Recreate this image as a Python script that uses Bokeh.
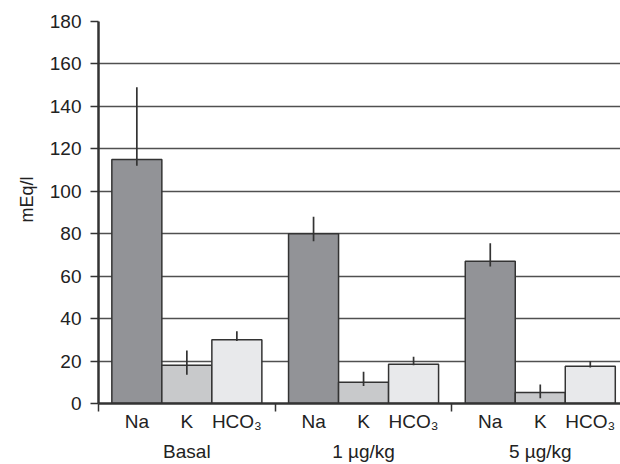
from bokeh.plotting import figure
from bokeh.models import Range1d, FixedTicker, LinearAxis, ColumnDataSource, Title
from bokeh.embed import file_html
from bokeh.resources import INLINE

# ---- data ----
groups = ["Basal", "1 µg/kg", "5 µg/kg"]
ions = ["Na", "K", "HCO₃"]
na = [115, 80, 67]
k = [18, 10, 5.2]
hco3 = [30, 18.5, 17.5]
na_hi = [149, 88, 75.5]
na_lo = [112, 76.5, 64.5]
k_hi = [25, 15, 9]
k_lo = [13.5, 8.3, 2.5]
hco3_hi = [34, 22, 20]
hco3_lo = [29.5, 18, 17]
y_ticks = [0, 20, 40, 60, 80, 100, 120, 140, 160, 180]

series = [na, k, hco3]
series_hi = [na_hi, k_hi, hco3_hi]
series_lo = [na_lo, k_lo, hco3_lo]
colors = ["#929397", "#c8c9cb", "#e8e9eb"]

FONT = "Liberation Sans"
BW = 0.283
INK = "#222222"
LINE = "#333333"

p = figure(width=620, height=464, output_backend="svg", toolbar_location=None,
           x_range=Range1d(0, 2.954), y_range=Range1d(0, 180),
           min_border_left=98, min_border_right=0, min_border_top=21, min_border_bottom=61)
p.xaxis.visible = False
p.outline_line_color = None

p.xgrid.grid_line_color = None
p.ygrid.grid_line_color = "#505050"
p.ygrid.grid_line_width = 1.4
p.ygrid.ticker = FixedTicker(ticks=y_ticks)

p.yaxis.ticker = FixedTicker(ticks=y_ticks)
p.yaxis.minor_tick_line_color = None
p.yaxis.major_tick_in = 0
p.yaxis.major_tick_out = 8
p.yaxis.major_tick_line_color = LINE
p.yaxis.major_tick_line_width = 1.5
p.yaxis.axis_line_color = LINE
p.yaxis.axis_line_width = 2.5
p.yaxis.major_label_text_font = FONT
p.yaxis.major_label_text_font_size = "19px"
p.yaxis.major_label_text_color = INK
p.yaxis.major_label_standoff = 9

ytitle = Title(text="mEq/l", align="left", offset=181, standoff=19,
               text_font=FONT, text_font_size="18px", text_font_style="normal",
               text_color=INK)
p.add_layout(ytitle, "left")

centers = []
overrides = {}
for i in range(3):
    for j in range(3):
        c = round(i + 0.5 + (j - 1) * BW, 4)
        centers.append(c)
        overrides[c] = ions[j]

ion_axis = LinearAxis(ticker=FixedTicker(ticks=centers, minor_ticks=[0, 1, 2, 3]),
                      major_label_overrides=overrides)
ion_axis.major_tick_line_color = None
ion_axis.major_tick_in = 0
ion_axis.major_tick_out = 0
ion_axis.minor_tick_in = 0
ion_axis.minor_tick_out = 8
ion_axis.minor_tick_line_color = LINE
ion_axis.minor_tick_line_width = 1.5
ion_axis.axis_line_color = LINE
ion_axis.axis_line_width = 2.5
ion_axis.major_label_text_font = FONT
ion_axis.major_label_text_font_size = "19px"
ion_axis.major_label_text_color = INK
ion_axis.major_label_standoff = -1
p.add_layout(ion_axis, "below")

gcenters = [i + 0.5 for i in range(3)]
group_axis = LinearAxis(ticker=FixedTicker(ticks=gcenters),
                        major_label_overrides={g: groups[i] for i, g in enumerate(gcenters)})
group_axis.axis_line_color = None
group_axis.major_tick_line_color = None
group_axis.minor_tick_line_color = None
group_axis.major_tick_in = 0
group_axis.major_tick_out = 0
group_axis.major_label_text_font = FONT
group_axis.major_label_text_font_size = "19px"
group_axis.major_label_text_color = INK
group_axis.major_label_standoff = 6
p.add_layout(group_axis, "below")

for j in range(3):
    xs = [i + 0.5 + (j - 1) * BW for i in range(3)]
    src = ColumnDataSource(dict(x=xs, top=series[j], hi=series_hi[j], lo=series_lo[j]))
    p.vbar(x="x", top="top", bottom=0, width=BW, source=src,
           fill_color=colors[j], line_color=LINE, line_width=1.5)
    p.segment(x0="x", x1="x", y0="lo", y1="hi", source=src,
              line_color=LINE, line_width=1.7)

open("out.html", "w").write(file_html(p, INLINE))
